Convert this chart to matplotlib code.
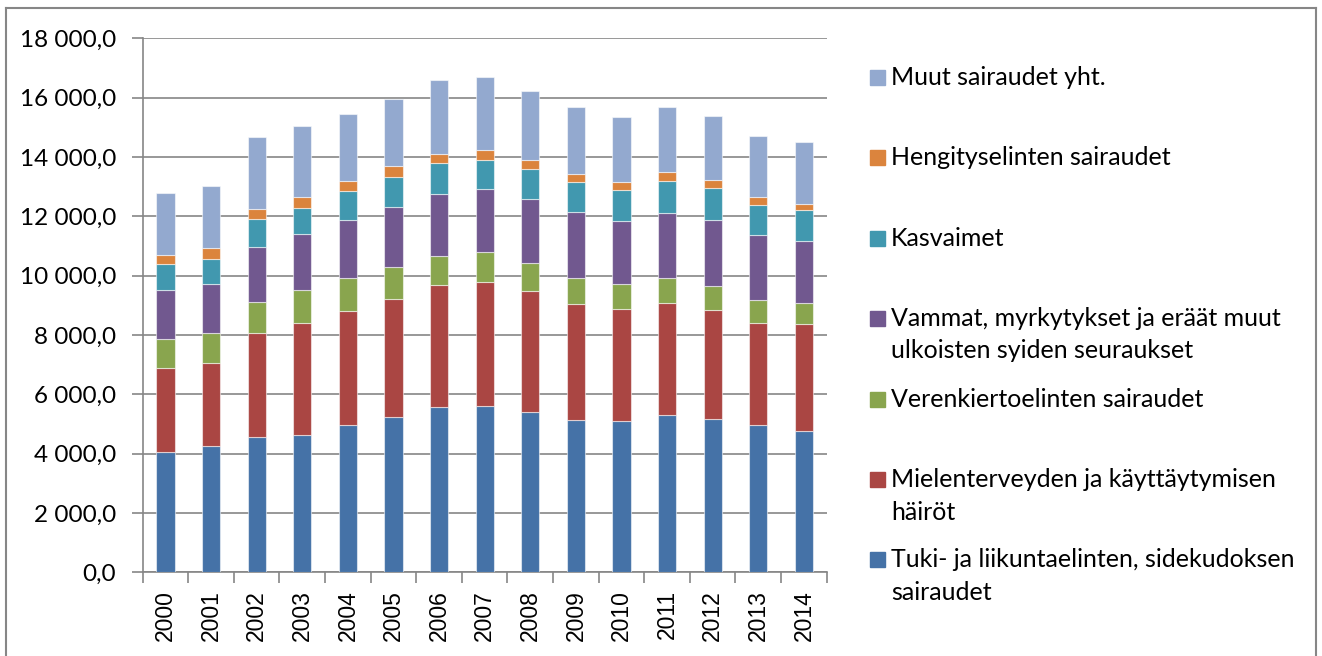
import matplotlib
matplotlib.use("Agg")
import matplotlib.pyplot as plt
from matplotlib.patches import Rectangle
from matplotlib.lines import Line2D
import numpy as np

years = ["2000", "2001", "2002", "2003", "2004", "2005", "2006", "2007",
         "2008", "2009", "2010", "2011", "2012", "2013", "2014"]

tuki = [4070, 4270, 4560, 4620, 4960, 5240, 5580, 5600, 5420, 5130, 5110, 5300, 5160, 4950, 4760]
mielenterveys = [2820, 2780, 3510, 3800, 3850, 3970, 4090, 4180, 4060, 3910, 3770, 3770, 3680, 3440, 3600]
verenkierto = [970, 1030, 1030, 1110, 1120, 1070, 1000, 1000, 940, 890, 850, 840, 810, 780, 730]
vammat = [1650, 1650, 1860, 1880, 1930, 2050, 2080, 2130, 2160, 2200, 2100, 2190, 2230, 2190, 2080]
kasvaimet = [880, 840, 940, 860, 990, 1010, 1030, 1000, 1030, 1030, 1040, 1090, 1060, 1010, 1030]
hengitys = [300, 350, 330, 380, 340, 340, 330, 330, 290, 280, 300, 320, 280, 270, 230]
muut = [2090, 2110, 2430, 2380, 2260, 2280, 2480, 2460, 2340, 2250, 2170, 2160, 2150, 2060, 2080]

series = [tuki, mielenterveys, verenkierto, vammat, kasvaimet, hengitys, muut]
labels = [
    "Tuki- ja liikuntaelinten, sidekudoksen\nsairaudet",
    "Mielenterveyden ja käyttäytymisen\nhäiröt",
    "Verenkiertoelinten sairaudet",
    "Vammat, myrkytykset ja eräät muut\nulkoisten syiden seuraukset",
    "Kasvaimet",
    "Hengityselinten sairaudet",
    "Muut sairaudet yht.",
]
colors = ["#4572A7", "#AA4643", "#89A54E", "#71588F", "#4198AF", "#DB843D", "#93A9CF"]

W, H = 1322, 656
fig = plt.figure(figsize=(W / 100, H / 100), dpi=100)
ax = fig.add_axes([142.7 / W, 1 - 572.3 / H, (826.7 - 142.7) / W, (572.3 - 38.3) / H])

x = np.arange(len(years))
bottom = np.zeros(len(years))
for vals, col in zip(series, colors):
    ax.bar(x, vals, width=0.4, bottom=bottom, color=col,
           edgecolor=(1, 1, 1, 0.55), linewidth=0.8, zorder=3)
    bottom += np.array(vals)

ax.set_xlim(-0.5, len(years) - 0.5)
ax.set_ylim(0, 18000)
ax.set_yticks(np.arange(0, 18001, 2000))
ax.set_yticklabels([f"{v:,.1f}".replace(",", " ").replace(".", ",") for v in range(0, 18001, 2000)],
                   fontfamily="Lato", fontsize=17.5)
ax.yaxis.grid(True, color="#868686", linewidth=1.2, zorder=0)
ax.set_axisbelow(True)

ax.set_xticks(x)
ax.set_xticklabels(years, rotation=90, fontfamily="Liberation Sans", fontsize=16.5)
ax.set_xticks(np.arange(-0.5, len(years), 1), minor=True)
ax.tick_params(axis="x", which="major", length=0, pad=13)
ax.tick_params(axis="x", which="minor", length=8, width=1.2, color="#868686")
ax.tick_params(axis="y", length=8, width=1.2, color="#868686", pad=11)

for s in ["top", "right"]:
    ax.spines[s].set_visible(False)
for s in ["left", "bottom"]:
    ax.spines[s].set_color("#868686")
    ax.spines[s].set_linewidth(1.2)

# legend (manual, top entry first)
ys = [77, 157, 238, 318, 399, 479, 559]
order = list(range(len(labels)))[::-1]
for yy, idx in zip(ys, order):
    fig.patches.append(Rectangle((870 / W, 1 - (yy + 7.5) / H), 15 / W, 15 / H,
                                 transform=fig.transFigure, color=colors[idx], figure=fig))
    for k, line in enumerate(labels[idx].split("\n")):
        fig.text(891 / W, 1 - (yy + 8 + 32.5 * k) / H, line, fontfamily="Lato", fontsize=18,
                 va="baseline", ha="left")

# outer border
for (x0, y0, x1, y1) in [(6, 8, 1316, 8), (6, 8, 6, 660), (1316, 8, 1316, 660)]:
    fig.add_artist(Line2D([x0 / W, x1 / W], [1 - y0 / H, 1 - y1 / H], transform=fig.transFigure,
                          color="#868686", linewidth=1.5))

fig.savefig("out.png", dpi=100)
